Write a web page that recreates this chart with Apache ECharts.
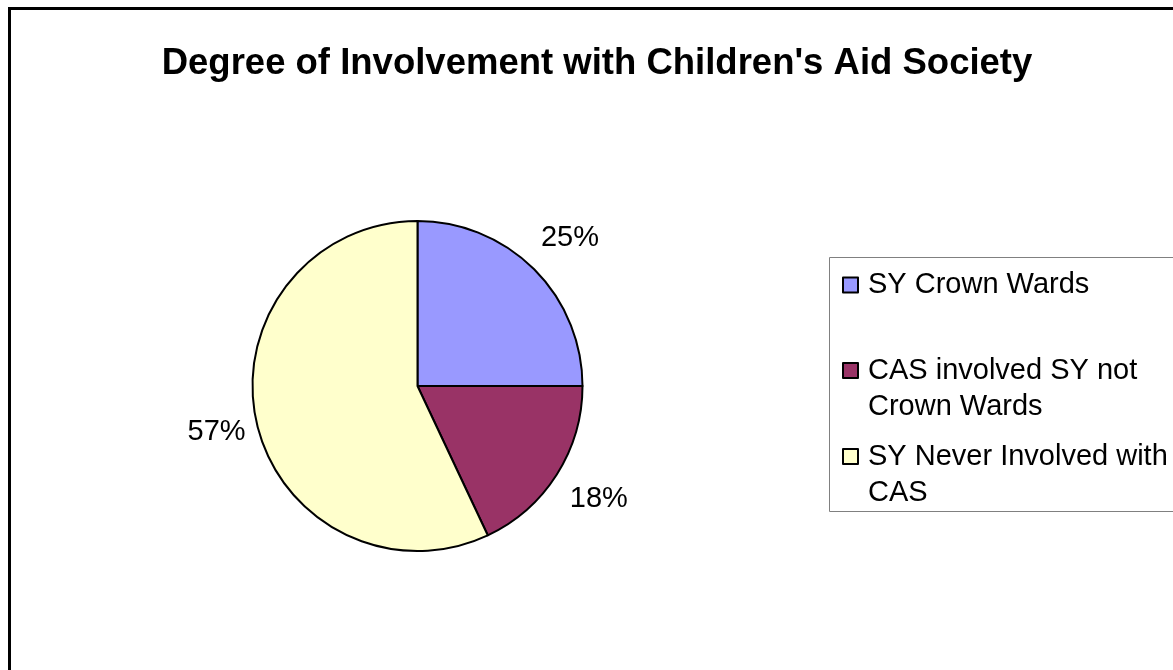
<!DOCTYPE html>
<html>
<head>
<meta charset="utf-8">
<script src="https://cdn.jsdelivr.net/npm/echarts@6/dist/echarts.min.js"></script>
<style>
  html, body { margin: 0; padding: 0; background: #ffffff; }
  #chart { width: 1173px; height: 670px; }
</style>
</head>
<body>
<div id="chart"></div>
<script>
// ---- data ----
var titleText = "Degree of Involvement with Children's Aid Society";
var categories = ["SY Crown Wards", "CAS involved SY not Crown Wards", "SY Never Involved with CAS"];
var legendLabels = ["SY Crown Wards", "CAS involved SY not\nCrown Wards", "SY Never Involved with\nCAS"];
var values = [25, 18, 57];
var colors = ["#9999FF", "#993366", "#FFFFCC"];

// ---- layout constants ----
var FONT = "'Liberation Sans', Arial, sans-serif";
var CX = 417.5, CY = 386, R = 165, LABEL_R = 210, LABEL_DX = 4;
var LH = 36;           // legend line height
var legendTops = [267, 316.5, 402.5];
var legendLeft = 842;

var chart = echarts.init(document.getElementById('chart'), null, { renderer: 'canvas' });

var total = values.reduce(function (a, b) { return a + b; }, 0);

var pieData = categories.map(function (c, i) {
  return { name: c, value: values[i], itemStyle: { color: colors[i] } };
});

var legends = categories.map(function (c, i) {
  var twoLine = legendLabels[i].indexOf('\n') >= 0;
  return {
    show: true,
    orient: 'vertical',
    left: legendLeft,
    top: legendTops[i],
    padding: 0,
    selectedMode: false,
    itemWidth: 15,
    itemHeight: 15,
    icon: 'rect',
    itemStyle: { borderColor: '#000', borderWidth: 2 },
    // a leading blank line keeps the first text line level with the marker
    formatter: function () { return twoLine ? ' \n' + legendLabels[i] : legendLabels[i]; },
    textStyle: {
      fontFamily: FONT,
      fontSize: 29,
      color: '#000',
      lineHeight: LH,
      padding: [0, 0, 0, 5]
    },
    data: [c]
  };
});

var option = {
  animation: false,
  backgroundColor: '#ffffff',
  textStyle: { fontFamily: FONT },
  title: {
    text: titleText,
    left: 597,
    top: 45,
    textAlign: 'center',
    padding: 0,
    textStyle: { fontFamily: FONT, fontSize: 36.5, fontWeight: 'bold', color: '#000' }
  },
  legend: legends,
  graphic: [
    {
      type: 'rect',
      silent: true,
      shape: { x: 9.5, y: 8.5, width: 1300, height: 800 },
      style: { fill: null, stroke: '#000', lineWidth: 3 },
      z: 100
    },
    {
      type: 'rect',
      silent: true,
      shape: { x: 829.5, y: 257.5, width: 400, height: 254 },
      style: { fill: null, stroke: '#808080', lineWidth: 1 },
      z: 100
    }
  ],
  series: [{
    type: 'pie',
    center: [CX, CY],
    radius: R,
    startAngle: 90,
    clockwise: true,
    avoidLabelOverlap: false,
    silent: true,
    itemStyle: { borderColor: '#000', borderWidth: 2 },
    label: {
      show: true,
      position: 'outside',
      formatter: function (p) { return Math.round(p.value / total * 100) + '%'; },
      fontFamily: FONT,
      fontSize: 29,
      color: '#000'
    },
    labelLine: { show: true, length: 5, length2: 0, lineStyle: { opacity: 0, width: 0 } },
    labelLayout: function (p) {
      var pts = p.labelLinePoints;
      var dx, dy;
      if (pts && pts[0]) {
        dx = pts[0][0] - CX; dy = pts[0][1] - CY;
      } else {
        var cum = 0;
        for (var k = 0; k < p.dataIndex; k++) cum += values[k];
        var mid = (cum + values[p.dataIndex] / 2) / total * 2 * Math.PI;
        dx = Math.sin(mid); dy = -Math.cos(mid);
      }
      var len = Math.sqrt(dx * dx + dy * dy) || 1;
      return {
        x: CX + dx / len * LABEL_R + LABEL_DX,
        y: CY + dy / len * LABEL_R,
        align: 'center',
        verticalAlign: 'middle'
      };
    },
    data: pieData
  }]
};

chart.setOption(option);
</script>
</body>
</html>
